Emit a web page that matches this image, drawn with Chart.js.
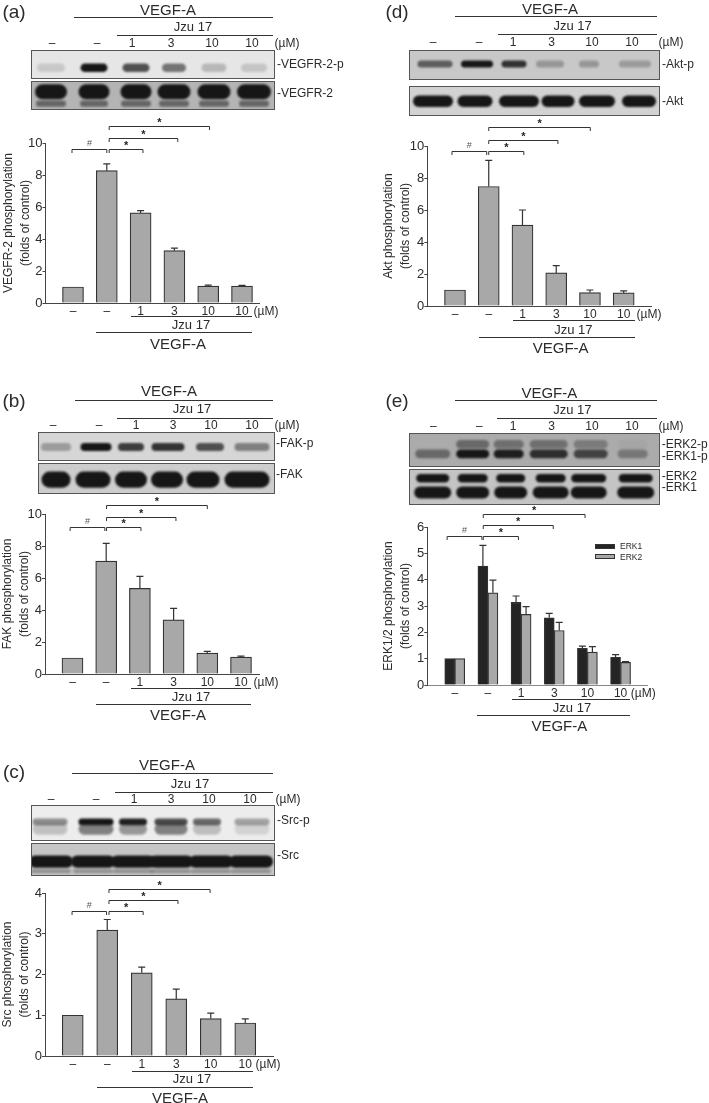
<!DOCTYPE html>
<html>
<head>
<meta charset="utf-8">
<title>VEGF-A Jzu 17</title>
<script src="https://cdn.jsdelivr.net/npm/chart.js@4"></script>
<style>
  html, body { margin: 0; padding: 0; background: #fff; }
  #page { position: relative; width: 709px; height: 1103px; overflow: hidden; font-family: "Liberation Sans", Arial, sans-serif; color: #2b2b2b; filter: blur(0.35px); }
  #page canvas, .t, .rule, .swatch { position: absolute; }
  .t { white-space: nowrap; line-height: 1; transform: translate(-50%, -50%); }
  .t.left { transform: translate(0, -50%); }
  .rule { height: 1px; background: #333; }
  .swatch { border: 1px solid #333; box-sizing: border-box; }
</style>
</head>
<body>
<div id="page"></div>
<script>
// --- DATA ---
const xTickLabels = ['–', '–', '1', '3', '10', '10'];
const unitLabel = '(µM)';

const vegfrValues = [1, 8.27, 5.63, 3.27, 1.06, 1.06];
const vegfrTops = [1, 8.7, 5.77, 3.43, 1.12, 1.1];
const vegfrTicks = [0, 2, 4, 6, 8, 10];

const fakValues = [1, 7.05, 5.35, 3.38, 1.3, 1.05];
const fakTops = [1, 8.17, 6.1, 4.1, 1.42, 1.12];
const fakTicks = [0, 2, 4, 6, 8, 10];

const srcValues = [1, 3.09, 2.04, 1.4, 0.92, 0.81];
const srcTops = [1, 3.35, 2.18, 1.64, 1.05, 0.91];
const srcTicks = [0, 1, 2, 3, 4];

const aktValues = [1, 7.47, 5.05, 2.07, 0.84, 0.82];
const aktTops = [1, 9.1, 6.0, 2.52, 1.0, 0.95];
const aktTicks = [0, 2, 4, 6, 8, 10];

const erk1Values = [1, 4.52, 3.14, 2.55, 1.39, 1.05];
const erk1Tops = [1, 5.3, 3.38, 2.72, 1.48, 1.15];
const erk2Values = [1, 3.5, 2.68, 2.07, 1.25, 0.86];
const erk2Tops = [1, 3.98, 2.98, 2.38, 1.46, 0.89];
const erkTicks = [0, 1, 2, 3, 4, 5, 6];

// significance brackets, in units of the chart's own axes
const sigMarks = ['#', '*', '*', '*'];
const vegfrSigX = [[0.97, 2], [2.07, 3.07], [2.07, 4.1], [2.07, 5.04]];
const vegfrSigY = [9.61, 9.61, 10.31, 11.04];
const fakSigX = [[0.93, 1.96], [2.01, 3.03], [2.01, 4.07], [2.01, 5]];
const fakSigY = [9.17, 9.17, 9.83, 10.56];
const srcSigX = [[0.98, 1.98], [2.05, 3.04], [2.05, 4.05], [2.05, 4.98]];
const srcSigY = [3.57, 3.57, 3.82, 4.11];
const aktSigX = [[0.91, 1.94], [2, 3.04], [2, 4.05], [2, 5.01]];
const aktSigY = [9.71, 9.71, 10.38, 11.17];
const erkSigX = [[0.77, 1.82], [1.86, 2.92], [1.86, 3.97], [1.86, 4.93]];
const erkSigY = [5.67, 5.67, 6.06, 6.51];

// --- PANEL LAYOUT ---
const page = document.getElementById('page');

const panels = [
  {
    letter: '(a)', letterAt: [14, 11],
    title: ['VEGFR-2 phosphorylation', '(folds of control)'],
    series: [{ label: 'VEGFR-2', values: vegfrValues, tops: vegfrTops, color: '#a8a8a8' }],
    ticks: vegfrTicks, sigX: vegfrSigX, sigY: vegfrSigY,
    boxLeft: 1, axisX: 45.5, right: 259, top: 142.7, zero: 303, c1: 73, c6: 242, barW: 21, axisColor: '#444',
    vegf: [168, 9, 16.7, 74, 273], jzu: [193, 26, 34.7, 117, 273],
    topY: 43, topX: [52, 97, 132, 171, 212, 252], unitTop: 287,
    vegfB: [178, 343, 332, 96, 252], jzuB: [191, 324, 316, 131, 252], unitBottom: 266,
    blots: [
      { x: 31, y: 50, w: 242, h: 27, bg: '#e6e6e6', bands: [
        { cy: 0.62, bh: 0.28, centers: [50, 93, 135, 173, 213, 253], widths: [28, 27, 27, 24, 25, 26], dark: [0.14, 1, 0.72, 0.55, 0.22, 0.16] }] },
      { x: 31, y: 81, w: 242, h: 27, bg: '#b4b4b4', bands: [
        { cy: 0.36, bh: 0.52, centers: [50, 93, 135, 173, 213, 253], widths: [32, 31, 31, 33, 33, 34], dark: [1, 1, 1, 1, 1, 1] },
        { cy: 0.8, bh: 0.2, centers: [50, 93, 135, 173, 213, 253], widths: [30, 28, 30, 30, 30, 30], dark: [0.5, 0.5, 0.5, 0.5, 0.5, 0.5] }] }
    ],
    blotLabels: [['-VEGFR-2-p', 277, 64], ['-VEGFR-2', 277, 93]]
  },
  {
    letter: '(b)', letterAt: [14, 400],
    title: ['FAK phosphorylation', '(folds of control)'],
    series: [{ label: 'FAK', values: fakValues, tops: fakTops, color: '#a8a8a8' }],
    ticks: fakTicks, sigX: fakSigX, sigY: fakSigY,
    boxLeft: 0, axisX: 45, right: 259, top: 514, zero: 674.3, c1: 72.5, c6: 241, barW: 21, axisColor: '#444',
    vegf: [169, 390, 399.5, 75, 273], jzu: [192, 408, 417.7, 117, 273],
    topY: 425, topX: [53, 99, 136, 173, 211, 252], unitTop: 287,
    vegfB: [178, 714, 704.3, 96, 251], jzuB: [191, 696, 688, 131, 251], unitBottom: 266,
    blots: [
      { x: 38, y: 432, w: 235, h: 27, bg: '#d6d6d6', bands: [
        { cy: 0.52, bh: 0.26, centers: [55, 95, 130, 167, 209, 251], widths: [30, 31, 26, 33, 28, 35], dark: [0.3, 1, 0.8, 0.85, 0.7, 0.45] }] },
      { x: 38, y: 463, w: 235, h: 29, bg: '#cdcdcd', bands: [
        { cy: 0.54, bh: 0.52, centers: [55, 92, 130, 166, 202, 246], widths: [29, 35, 32, 32, 33, 45], dark: [1, 1, 1, 1, 1, 1] }] }
    ],
    blotLabels: [['-FAK-p', 276, 443], ['-FAK', 276, 474]]
  },
  {
    letter: '(c)', letterAt: [14, 771],
    title: ['Src phosphorylation', '(folds of control)'],
    series: [{ label: 'Src', values: srcValues, tops: srcTops, color: '#a8a8a8' }],
    ticks: srcTicks, sigX: srcSigX, sigY: srcSigY,
    boxLeft: 0, axisX: 45, right: 272.7, top: 892.7, zero: 1056, c1: 72.7, c6: 245, barW: 21, axisColor: '#444',
    vegf: [167, 764, 773.3, 72, 273], jzu: [190, 782.7, 791.7, 115, 273],
    topY: 798.7, topX: [51, 96, 134, 171, 209, 250], unitTop: 288,
    vegfB: [180, 1096.7, 1086.7, 97, 253], jzuB: [192, 1078, 1070.7, 132, 253], unitBottom: 268,
    blots: [
      { x: 31, y: 805, w: 242, h: 34, bg: '#ededed', bands: [
        { cy: 0.47, bh: 0.17, centers: [49, 95, 132, 170, 206, 251], widths: [35, 35, 28, 33, 28, 35], dark: [0.45, 1, 0.95, 0.75, 0.62, 0.35] },
        { cy: 0.68, bh: 0.3, centers: [49, 95, 132, 170, 206, 251], widths: [35, 35, 28, 33, 28, 35], dark: [0.2, 0.5, 0.4, 0.5, 0.22, 0.12] }] },
      { x: 31, y: 843, w: 242, h: 31, bg: '#c6c6c6', bands: [
        { cy: 0.57, bh: 0.36, centers: [50, 92, 132, 170, 210, 250], widths: [44, 44, 44, 44, 44, 44], dark: [1, 1, 1, 1, 1, 1] },
        { cy: 0.88, bh: 0.1, centers: [50, 92, 132, 170, 210, 250], widths: [40, 40, 40, 40, 40, 40], dark: [0.3, 0.3, 0.3, 0.3, 0.3, 0.3] }] }
    ],
    blotLabels: [['-Src-p', 277, 820], ['-Src', 277, 855]]
  },
  {
    letter: '(d)', letterAt: [397, 11],
    title: ['Akt phosphorylation', '(folds of control)'],
    series: [{ label: 'Akt', values: aktValues, tops: aktTops, color: '#a8a8a8' }],
    ticks: aktTicks, sigX: aktSigX, sigY: aktSigY,
    boxLeft: 381, axisX: 427.3, right: 651, top: 146, zero: 306, c1: 455, c6: 623.7, barW: 21, axisColor: '#444',
    vegf: [550, 8, 15.7, 455, 656.7], jzu: [572.7, 25, 33.7, 497.7, 656.7],
    topY: 41.7, topX: [433, 479, 513, 551.7, 592, 632], unitTop: 671,
    vegfB: [560.7, 346.7, 336.7, 478.7, 635], jzuB: [573.3, 328.7, 320.3, 513.3, 635], unitBottom: 649,
    blots: [
      { x: 409, y: 49.7, w: 248.7, h: 27.6, bg: '#c8c8c8', bands: [
        { cy: 0.47, bh: 0.22, centers: [434, 476, 513, 549, 588, 634], widths: [35, 32, 25, 28, 20, 32], dark: [0.6, 1, 0.85, 0.28, 0.28, 0.26] }] },
      { x: 409, y: 86, w: 248.7, h: 27.3, bg: '#d2d2d2', bands: [
        { cy: 0.52, bh: 0.38, centers: [432, 474, 518, 557, 596, 638], widths: [40, 35, 40, 33, 36, 34], dark: [1, 1, 1, 1, 1, 1] }] }
    ],
    blotLabels: [['-Akt-p', 662, 64], ['-Akt', 662, 101]]
  },
  {
    letter: '(e)', letterAt: [397, 400],
    title: ['ERK1/2 phosphorylation', '(folds of control)'],
    series: [
      { label: 'ERK1', values: erk1Values, tops: erk1Tops, color: '#242424' },
      { label: 'ERK2', values: erk2Values, tops: erk2Tops, color: '#a8a8a8' }
    ],
    ticks: erkTicks, sigX: erkSigX, sigY: erkSigY,
    boxLeft: 381, axisX: 427.3, right: 646.7, top: 527.3, zero: 685, c1: 454.7, c6: 620.3, barW: 10, axisColor: '#888',
    vegf: [549.3, 391.7, 400.3, 455, 656.7], jzu: [572.3, 409.3, 418.3, 497, 656.7],
    topY: 426, topX: [433.3, 479.3, 513, 551.7, 592, 632], unitTop: 671,
    vegfB: [559.3, 725.3, 715, 477.3, 630], jzuB: [572, 706.7, 698.7, 512.3, 630], unitBottom: 643.3,
    legend: { x: 595.3, textX: 620, ys: [546, 556.7] },
    blots: [
      { x: 409.3, y: 433.3, w: 248.4, h: 32, bg: '#ababab', bands: [
        { cy: 0.62, bh: 0.24, centers: [432, 472, 508, 548, 590, 632], widths: [35, 33, 30, 38, 34, 30], dark: [0.45, 1, 0.95, 0.85, 0.7, 0.35] },
        { cy: 0.32, bh: 0.24, centers: [432, 472, 508, 548, 590, 632], widths: [35, 33, 30, 38, 34, 30], dark: [0, 0.45, 0.4, 0.4, 0.32, 0.04] }] },
      { x: 409.3, y: 468.7, w: 248.4, h: 34, bg: '#c4c4c4', bands: [
        { cy: 0.24, bh: 0.22, centers: [432, 472, 510, 550, 588, 635], widths: [33, 30, 29, 30, 35, 34], dark: [1, 1, 1, 1, 1, 1] },
        { cy: 0.66, bh: 0.32, centers: [432, 472, 510, 550, 588, 635], widths: [37, 33, 33, 36, 36, 37], dark: [1, 1, 1, 1, 1, 1] }] }
    ],
    blotLabels: [['-ERK2-p', 661.7, 444], ['-ERK1-p', 661.7, 455.7], ['-ERK2', 661.7, 475.7], ['-ERK1', 661.7, 487.3]]
  }
];

// --- HELPERS ---
function addText(str, x, y, size, left) {
  const el = document.createElement('div');
  el.className = left ? 't left' : 't';
  el.textContent = str;
  el.style.left = x + 'px';
  el.style.top = y + 'px';
  el.style.fontSize = size + 'px';
  page.appendChild(el);
}

function addRule(y, x1, x2) {
  const el = document.createElement('div');
  el.className = 'rule';
  el.style.left = x1 + 'px';
  el.style.top = y + 'px';
  el.style.width = (x2 - x1) + 'px';
  page.appendChild(el);
}

// title with its rule: [text x, text y, rule y, rule start, rule end]
function addHeading(str, spec, size) {
  addText(str, spec[0], spec[1], size);
  addRule(spec[2], spec[3], spec[4]);
}

// western blot photo, faked with blurred dark bands
function drawBlot(b) {
  const cv = document.createElement('canvas');
  cv.width = Math.ceil(b.w);
  cv.height = Math.ceil(b.h);
  cv.style.left = b.x + 'px';
  cv.style.top = b.y + 'px';
  cv.style.boxSizing = 'border-box';
  cv.style.border = '1px solid #555';
  page.appendChild(cv);
  const ctx = cv.getContext('2d');
  ctx.fillStyle = b.bg;
  ctx.fillRect(0, 0, cv.width, cv.height);
  ctx.filter = 'blur(1.3px)';
  b.bands.forEach((band) => {
    const bandH = band.bh * b.h + 1;
    band.centers.forEach((c, i) => {
      ctx.fillStyle = 'rgba(22,22,22,' + band.dark[i] + ')';
      ctx.beginPath();
      ctx.roundRect(c - b.x - band.widths[i] / 2, band.cy * b.h - bandH / 2, band.widths[i], bandH, bandH / 2);
      ctx.fill();
    });
  });
}

// upper error bars, from the tops of each series
const errorBars = {
  id: 'errorBars',
  beforeDatasetsDraw(chart, args, opts) {
    const ctx = chart.ctx;
    const y = chart.scales.y;
    ctx.save();
    ctx.strokeStyle = '#333';
    ctx.lineWidth = 1.2;
    opts.series.forEach((s, k) => {
      chart.getDatasetMeta(k).data.forEach((bar, i) => {
        if (s.tops[i] <= s.values[i]) return;
        const yTop = y.getPixelForValue(s.tops[i]);
        ctx.beginPath();
        ctx.moveTo(bar.x, y.getPixelForValue(s.values[i]));
        ctx.lineTo(bar.x, yTop);
        ctx.moveTo(bar.x - 3.5, yTop);
        ctx.lineTo(bar.x + 3.5, yTop);
        ctx.stroke();
      });
    });
    ctx.restore();
  }
};

// # and * brackets above the bars
const sigBrackets = {
  id: 'sigBrackets',
  afterDraw(chart, args, opts) {
    const ctx = chart.ctx;
    const { x, y } = chart.scales;
    ctx.save();
    ctx.strokeStyle = '#333';
    ctx.lineWidth = 1;
    ctx.textAlign = 'center';
    ctx.textBaseline = 'middle';
    opts.ends.forEach((end, i) => {
      const x1 = x.getPixelForValue(end[0]);
      const x2 = x.getPixelForValue(end[1]);
      const yy = Math.round(y.getPixelForValue(opts.levels[i])) + 0.5;
      ctx.beginPath();
      ctx.moveTo(x1, yy + 3.5);
      ctx.lineTo(x1, yy);
      ctx.lineTo(x2, yy);
      ctx.lineTo(x2, yy + 3.5);
      ctx.stroke();
      const isStar = sigMarks[i] === '*';
      ctx.fillStyle = isStar ? '#222' : '#555';
      ctx.font = isStar ? 'bold 11px "Liberation Sans"' : '9px "Liberation Sans"';
      ctx.fillText(sigMarks[i], (x1 + x2) / 2, yy - (isStar ? 4 : 6));
    });
    ctx.restore();
  }
};

// --- BUILD ---
function buildPanel(p) {
  addText(p.letter, p.letterAt[0], p.letterAt[1], 19);
  addHeading('VEGF-A', p.vegf, 15);
  addHeading('Jzu 17', p.jzu, 13);
  addHeading('VEGF-A', p.vegfB, 15);
  addHeading('Jzu 17', p.jzuB, 13);
  xTickLabels.forEach((l, i) => addText(l, p.topX[i], p.topY, 12));
  addText(unitLabel, p.unitTop, p.topY, 12);
  addText(unitLabel, p.unitBottom, p.zero + 7.5, 12);
  p.blots.forEach(drawBlot);
  p.blotLabels.forEach((l) => addText(l[0], l[1], l[2], 12, true));

  const padTop = 34;
  const canvasTop = p.top - padTop;
  const padBottom = 20;
  const cv = document.createElement('canvas');
  const cw = Math.round(p.right - p.boxLeft + 12);
  const ch = Math.round(p.zero - canvasTop + padBottom);
  cv.width = cw;
  cv.height = ch;
  cv.style.left = p.boxLeft + 'px';
  cv.style.top = canvasTop + 'px';
  cv.style.width = cw + 'px';
  cv.style.height = ch + 'px';
  page.appendChild(cv);

  // x runs 1..6 on a linear scale so the gap before the first bar can follow the picture
  const step = (p.c6 - p.c1) / 5;
  const xMin = 1 - (p.c1 - p.axisX) / step;
  const xMax = 6 + (p.right - p.c6) / step;

  new Chart(cv, {
    type: 'bar',
    data: {
      datasets: p.series.map((s) => ({
        label: s.label,
        data: s.values.map((v, i) => ({ x: i + 1, y: v })),
        backgroundColor: s.color,
        borderColor: '#333',
        borderWidth: 1.2,
        barThickness: p.barW
      }))
    },
    plugins: [errorBars, sigBrackets],
    options: {
      responsive: false,
      animation: false,
      devicePixelRatio: 1,
      layout: { padding: { left: 0, right: 12, top: padTop, bottom: 0 } },
      plugins: {
        legend: { display: false },
        tooltip: { enabled: false },
        errorBars: { series: p.series },
        sigBrackets: { ends: p.sigX, levels: p.sigY }
      },
      scales: {
        x: {
          type: 'linear',
          offset: false,
          min: xMin,
          max: xMax,
          afterBuildTicks: (s) => { s.ticks = xTickLabels.map((l, i) => ({ value: i + 1 })); },
          afterFit: (s) => { s.height = padBottom; },
          border: { color: p.axisColor, width: 1 },
          grid: { offset: false, drawOnChartArea: false, drawTicks: false },
          ticks: {
            autoSkip: false,
            maxRotation: 0,
            padding: 1,
            color: '#2b2b2b',
            font: { family: '"Liberation Sans"', size: 12 },
            callback: (v) => xTickLabels[v - 1]
          }
        },
        y: {
          min: p.ticks[0],
          max: p.ticks[p.ticks.length - 1],
          afterBuildTicks: (s) => { s.ticks = p.ticks.map((v) => ({ value: v })); },
          afterFit: (s) => { s.width = p.axisX - p.boxLeft; },
          border: { color: '#444', width: 1 },
          grid: { drawOnChartArea: false, tickLength: 3, tickColor: '#444' },
          ticks: {
            padding: 0,
            color: '#2b2b2b',
            font: { family: '"Liberation Sans"', size: 13 }
          },
          title: {
            display: true,
            text: p.title,
            color: '#2b2b2b',
            padding: 0,
            font: { family: '"Liberation Sans"', size: 12, lineHeight: 1.35 }
          }
        }
      }
    }
  });

  if (p.legend) {
    p.series.forEach((s, i) => {
      const sw = document.createElement('div');
      sw.className = 'swatch';
      sw.style.cssText = 'left:' + p.legend.x + 'px;top:' + (p.legend.ys[i] - 2.5) + 'px;width:20px;height:5px;background:' + s.color;
      page.appendChild(sw);
      addText(s.label, p.legend.textX, p.legend.ys[i], 8.5, true);
    });
  }
}

panels.forEach(buildPanel);
</script>
</body>
</html>
